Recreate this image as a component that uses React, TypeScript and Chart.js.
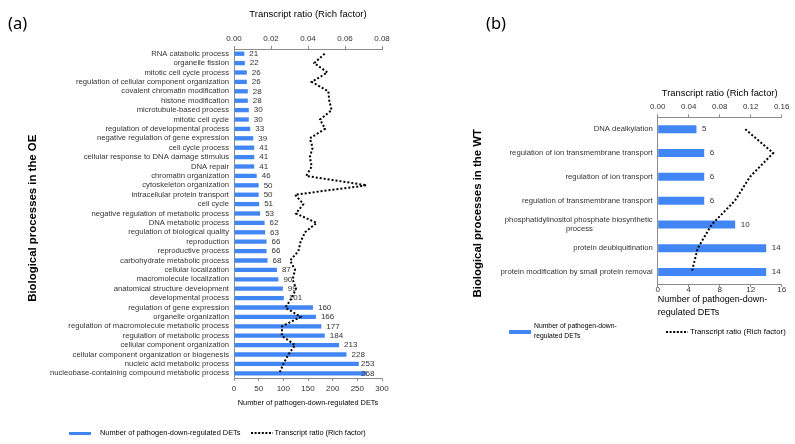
import React, { useEffect, useRef } from "react";
import { Chart, registerables } from "chart.js";

Chart.register(...registerables);

// ---------- data ----------
const OE_CATEGORIES = [
  "RNA catabolic process",
  "organelle fission",
  "mitotic cell cycle process",
  "regulation of cellular component organization",
  "covalent chromatin modification",
  "histone modification",
  "microtubule-based process",
  "mitotic cell cycle",
  "regulation of developmental process",
  "negative regulation of gene expression",
  "cell cycle process",
  "cellular response to DNA damage stimulus",
  "DNA repair",
  "chromatin organization",
  "cytoskeleton organization",
  "intracellular protein transport",
  "cell cycle",
  "negative regulation of metabolic process",
  "DNA metabolic process",
  "regulation of biological quality",
  "reproduction",
  "reproductive process",
  "carbohydrate metabolic process",
  "cellular localization",
  "macromolecule localization",
  "anatomical structure development",
  "developmental process",
  "regulation of gene expression",
  "organelle organization",
  "regulation of macromolecule metabolic process",
  "regulation of metabolic process",
  "cellular component organization",
  "cellular component organization or biogenesis",
  "nucleic acid metabolic process",
  "nucleobase-containing compound metabolic process",
];
const OE_COUNTS = [
  21, 22, 26, 26, 28, 28, 30, 30, 33, 39, 41, 41, 41, 46, 50, 50, 51, 53, 62, 63,
  66, 66, 68, 87, 90, 99, 101, 160, 166, 177, 184, 213, 228, 253, 268,
];
const OE_RATIOS = [
  0.049, 0.0434, 0.0505, 0.042, 0.051, 0.0515, 0.0528, 0.0465, 0.0492, 0.041,
  0.0425, 0.041, 0.042, 0.039, 0.0717, 0.033, 0.0375, 0.0335, 0.0447, 0.0384,
  0.036, 0.0348, 0.0303, 0.033, 0.0317, 0.0335, 0.0312, 0.0278, 0.036, 0.026,
  0.0258, 0.033, 0.0294, 0.0267, 0.0245,
];
const OE_COUNT_TICKS = [0, 50, 100, 150, 200, 250, 300];
const OE_RATIO_TICKS = [0, 0.02, 0.04, 0.06, 0.08];

const WT_CATEGORIES: (string | string[])[] = [
  "DNA dealkylation",
  "regulation of ion transmembrane transport",
  "regulation of ion transport",
  "regulation of transmembrane transport",
  ["phosphatidylinositol phosphate biosynthetic", "process"],
  "protein deubiquitination",
  "protein modification by small protein removal",
];
const WT_COUNTS = [5, 6, 6, 6, 10, 14, 14];
const WT_RATIOS = [0.113, 0.149, 0.119, 0.0997, 0.0697, 0.0516, 0.0439];
const WT_COUNT_TICKS = [0, 4, 8, 12, 16];
const WT_RATIO_TICKS = [0, 0.04, 0.08, 0.12, 0.16];

const COUNT_LABEL = "Number of pathogen-down-regulated DETs";
const RATIO_LABEL = "Transcript ratio (Rich factor)";
const OE_TITLE = "Biological processes in the OE";
const WT_TITLE = "Biological processes in the WT";

// ---------- style ----------
const FONT = "'Liberation Sans', Arial, sans-serif";
const BLUE = "#4285f4";
const TEXT = "#333333";
const AXIS = "#8c8c8c";

Chart.defaults.font.family = FONT;
Chart.defaults.color = TEXT;

const measureCtx = document.createElement("canvas").getContext("2d") as CanvasRenderingContext2D;
function centerLines(label: any, font: string) {
  if (!Array.isArray(label)) return label;
  measureCtx.font = font;
  const widths = label.map((l: string) => measureCtx.measureText(l).width);
  const maxW = Math.max(...widths);
  const sp = measureCtx.measureText(" ").width;
  return label.map((l: string, i: number) => l + " ".repeat(Math.round((maxW - widths[i]) / 2 / sp)));
}
// shift a centred, rotated title along its axis by padding with trailing spaces
function shiftTitle(text: string, shiftPx: number, font: string) {
  measureCtx.font = font;
  const sp = measureCtx.measureText(" ").width;
  return text + " ".repeat(Math.max(0, Math.round((2 * shiftPx) / sp)));
}

const valueLabels = {
  id: "valueLabels",
  afterDatasetDraw(chart: any, args: any, opts: any) {
    const meta = args.meta;
    if (meta.type !== "bar") return;
    const data = chart.data.datasets[args.index].data;
    const ctx = chart.ctx;
    ctx.save();
    ctx.font = opts.font;
    ctx.fillStyle = opts.color;
    ctx.textAlign = "left";
    ctx.textBaseline = "middle";
    const maxX = chart.chartArea.right - (opts.rightInset || 0);
    meta.data.forEach((el: any, i: number) => {
      const x = Math.min(el.x + opts.gap, maxX);
      ctx.fillText(String(data[i]), x, el.y);
    });
    ctx.restore();
  },
};

function setTicks(arr: number[]) {
  return (scale: any) => {
    scale.ticks = arr.map((v) => ({ value: v }));
  };
}

const TITLE_FONT = `bold 11.4px ${FONT}`;

function configA(): any {
  return {
    type: "bar",
    data: {
      labels: OE_CATEGORIES,
      datasets: [
        {
          type: "bar",
          label: COUNT_LABEL,
          data: OE_COUNTS,
          xAxisID: "x",
          yAxisID: "y",
          backgroundColor: BLUE,
          barPercentage: 0.46,
          categoryPercentage: 1,
          order: 1,
        },
        {
          type: "line",
          label: RATIO_LABEL,
          data: OE_RATIOS,
          xAxisID: "x2",
          yAxisID: "y",
          borderColor: "#000",
          borderWidth: 2,
          borderDash: [2, 2],
          pointRadius: 0,
          fill: false,
          tension: 0,
          order: 0,
        },
      ],
    },
    options: {
      indexAxis: "y",
      responsive: false,
      animation: false,
      layout: { padding: { left: 0, right: 88, top: 0, bottom: 0 } },
      plugins: {
        legend: { display: false },
        tooltip: { enabled: false },
        valueLabels: { font: `8px ${FONT}`, color: TEXT, gap: 5, rightInset: 21 },
      },
      scales: {
        y: {
          type: "category",
          position: "left",
          offset: true,
          grid: { display: false, drawTicks: false },
          border: { display: true, color: AXIS },
          ticks: { autoSkip: false, font: { size: 7.7 }, padding: 5, color: TEXT },
          title: {
            display: true,
            text: shiftTitle(OE_TITLE, 5, TITLE_FONT),
            font: { size: 11.4, weight: "bold" },
            color: "#000",
            padding: { top: 25.6, bottom: 0 },
          },
          afterFit: (s: any) => {
            s.width = 234;
          },
        },
        x: {
          type: "linear",
          position: "bottom",
          min: 0,
          max: 300,
          afterBuildTicks: setTicks(OE_COUNT_TICKS),
          grid: { display: true, drawOnChartArea: false, drawTicks: true, tickLength: 3, color: AXIS },
          border: { display: true, color: AXIS },
          ticks: { autoSkip: false, maxRotation: 0, font: { size: 8 }, padding: 3, color: TEXT },
          title: {
            display: true,
            text: COUNT_LABEL,
            font: { size: 7.4 },
            color: "#000",
            padding: { top: 0, bottom: 36.6 },
          },
          afterFit: (s: any) => {
            s.height = 66;
          },
        },
        x2: {
          type: "linear",
          position: "top",
          min: 0,
          max: 0.08,
          afterBuildTicks: setTicks(OE_RATIO_TICKS),
          grid: { display: true, drawOnChartArea: false, drawTicks: true, tickLength: 3, color: AXIS },
          border: { display: true, color: AXIS },
          ticks: {
            autoSkip: false,
            maxRotation: 0,
            font: { size: 8 },
            padding: 2.5,
            color: TEXT,
            callback: (v: any) => Number(v).toFixed(2),
          },
          title: {
            display: true,
            text: RATIO_LABEL,
            font: { size: 9.5 },
            color: "#000",
            padding: { top: 8.3, bottom: 0 },
          },
          afterFit: (s: any) => {
            s.height = 49;
          },
        },
      },
    },
    plugins: [valueLabels],
  };
}

function configB(): any {
  const catFont = `7.7px ${FONT}`;
  return {
    type: "bar",
    data: {
      labels: WT_CATEGORIES,
      datasets: [
        {
          type: "bar",
          label: COUNT_LABEL,
          data: WT_COUNTS,
          xAxisID: "x",
          yAxisID: "y",
          backgroundColor: BLUE,
          barPercentage: 0.335,
          categoryPercentage: 1,
          order: 1,
        },
        {
          type: "line",
          label: RATIO_LABEL,
          data: WT_RATIOS,
          xAxisID: "x2",
          yAxisID: "y",
          borderColor: "#000",
          borderWidth: 2,
          borderDash: [2, 2],
          pointRadius: 0,
          fill: false,
          tension: 0,
          order: 0,
        },
      ],
    },
    options: {
      indexAxis: "y",
      responsive: false,
      animation: false,
      layout: { padding: { left: 0, right: 13.3, top: 0, bottom: 0 } },
      plugins: {
        legend: { display: false },
        tooltip: { enabled: false },
        valueLabels: { font: `8px ${FONT}`, color: TEXT, gap: 5.5, rightInset: 0 },
      },
      scales: {
        y: {
          type: "category",
          position: "left",
          offset: true,
          grid: { display: false, drawTicks: false },
          border: { display: true, color: AXIS },
          ticks: {
            autoSkip: false,
            font: { size: 7.7, lineHeight: 1.1 },
            padding: 5,
            color: TEXT,
            callback: function (this: any, value: any) {
              return centerLines(this.getLabelForValue(value), catFont);
            },
          },
          title: {
            display: true,
            text: shiftTitle(WT_TITLE, 12.3, TITLE_FONT),
            font: { size: 11.4, weight: "bold" },
            color: "#000",
            padding: { top: 9.1, bottom: 0 },
          },
          afterFit: (s: any) => {
            s.width = 195.7;
          },
        },
        x: {
          type: "linear",
          position: "bottom",
          min: 0,
          max: 16,
          afterBuildTicks: setTicks(WT_COUNT_TICKS),
          grid: { display: true, drawOnChartArea: false, drawTicks: true, tickLength: 3, color: AXIS },
          border: { display: true, color: AXIS },
          ticks: { autoSkip: false, maxRotation: 0, font: { size: 8 }, padding: -2, color: TEXT },
          title: {
            display: true,
            align: "start",
            text: ["Number of pathogen-down-", "regulated DETs"],
            font: { size: 9, lineHeight: 1.4 },
            color: "#000",
            padding: { top: 0, bottom: 11.1 },
          },
          afterFit: (s: any) => {
            s.height = 46;
          },
        },
        x2: {
          type: "linear",
          position: "top",
          min: 0,
          max: 0.16,
          afterBuildTicks: setTicks(WT_RATIO_TICKS),
          grid: { display: true, drawOnChartArea: false, drawTicks: true, tickLength: 3, color: AXIS },
          border: { display: true, color: AXIS },
          ticks: {
            autoSkip: false,
            maxRotation: 0,
            font: { size: 8 },
            padding: 2.5,
            color: TEXT,
            callback: (v: any) => Number(v).toFixed(2),
          },
          title: {
            display: true,
            text: RATIO_LABEL,
            font: { size: 9.4 },
            color: "#000",
            padding: { top: 87.3, bottom: 0 },
          },
          afterFit: (s: any) => {
            s.height = 117.3;
          },
        },
      },
    },
    plugins: [valueLabels],
  };
}

function DottedSample({ left, top }: { left: number; top: number }) {
  return (
    <svg width={22} height={4} style={{ position: "absolute", left, top: top - 2 }}>
      <line x1={0} y1={2} x2={22} y2={2} stroke="#000" strokeWidth={2} strokeDasharray="2 1.6" />
    </svg>
  );
}

function Label({
  left,
  cy,
  size,
  children,
  lh = 12,
}: {
  left: number;
  cy: number;
  size: number;
  children: any;
  lh?: number;
}) {
  return (
    <div
      style={{
        position: "absolute",
        left,
        top: cy - lh / 2,
        fontSize: size,
        lineHeight: `${lh}px`,
        whiteSpace: "nowrap",
        color: "#000",
        fontFamily: FONT,
      }}
    >
      {children}
    </div>
  );
}

export default function App() {
  const refA = useRef<HTMLCanvasElement>(null);
  const refB = useRef<HTMLCanvasElement>(null);
  useEffect(() => {
    const a = new Chart(refA.current as HTMLCanvasElement, configA());
    const b = new Chart(refB.current as HTMLCanvasElement, configB());
    return () => {
      a.destroy();
      b.destroy();
    };
  }, []);
  return (
    <div
      style={{
        position: "absolute",
        left: 0,
        top: 0,
        width: 795,
        height: 444,
        background: "#fff",
        overflow: "hidden",
        fontFamily: FONT,
      }}
    >
      <canvas ref={refA} width={470} height={444} style={{ position: "absolute", left: 0, top: 0 }} />
      <canvas ref={refB} width={333} height={330} style={{ position: "absolute", left: 462, top: 0 }} />

      <div
        style={{
          position: "absolute",
          left: 8,
          top: 10,
          fontSize: 16.5,
          lineHeight: "26px",
          fontFamily: "'Noto Sans', sans-serif",
          color: "#000",
        }}
      >
        (a)
      </div>
      <div
        style={{
          position: "absolute",
          left: 486,
          top: 10,
          fontSize: 16.5,
          lineHeight: "26px",
          fontFamily: "'Noto Sans', sans-serif",
          color: "#000",
        }}
      >
        (b)
      </div>

      {/* legend (a) */}
      <div style={{ position: "absolute", left: 69, top: 431.5, width: 22, height: 3.5, background: BLUE }} />
      <Label left={100} cy={433.3} size={7.4}>
        {COUNT_LABEL}
      </Label>
      <DottedSample left={250.5} top={433} />
      <Label left={274.5} cy={433.3} size={7.4}>
        {RATIO_LABEL}
      </Label>

      {/* legend (b) */}
      <div style={{ position: "absolute", left: 509, top: 330, width: 22, height: 3.5, background: BLUE }} />
      <div
        style={{
          position: "absolute",
          left: 534,
          top: 320.7,
          fontSize: 6.8,
          lineHeight: "10px",
          whiteSpace: "nowrap",
          color: "#000",
          fontFamily: FONT,
        }}
      >
        Number of pathogen-down-
        <br />
        regulated DETs
      </div>
      <DottedSample left={666} top={332.3} />
      <Label left={690} cy={332.3} size={7.75}>
        {RATIO_LABEL}
      </Label>
    </div>
  );
}
